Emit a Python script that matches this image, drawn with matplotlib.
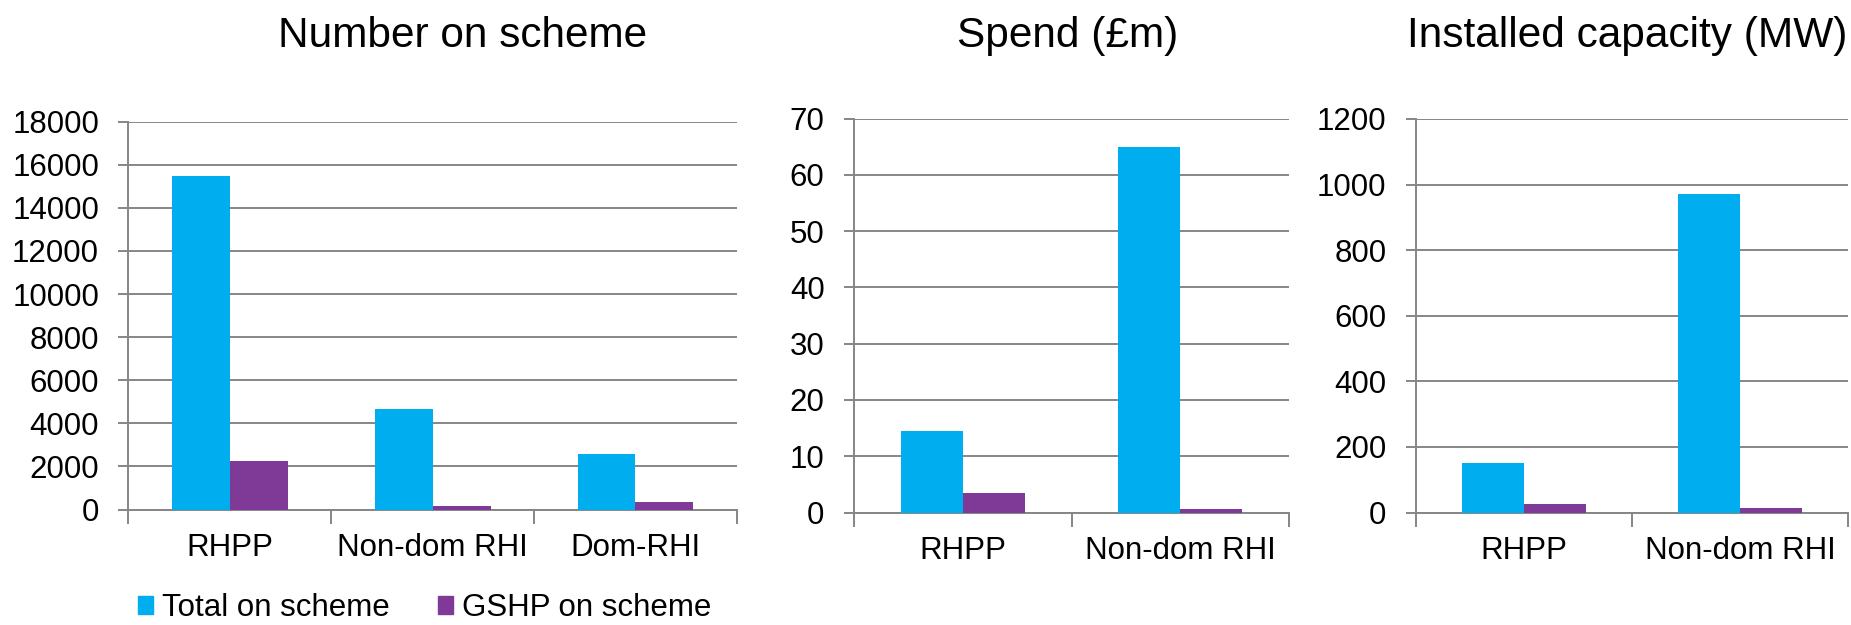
import numpy as np
import matplotlib
matplotlib.use("Agg")
import matplotlib.pyplot as plt
from matplotlib.patches import Patch

plt.rcParams['font.family'] = ['Liberation Sans', 'DejaVu Sans']

# data for the three panels
number_cats = ['RHPP', 'Non-dom RHI', 'Dom-RHI']
number_total = [15500, 4650, 2580]
number_gshp = [2250, 160, 340]

spend_cats = ['RHPP', 'Non-dom RHI']
spend_total = [14.5, 65.0]
spend_gshp = [3.4, 0.6]

capacity_cats = ['RHPP', 'Non-dom RHI']
capacity_total = [152, 970]
capacity_gshp = [27, 15]

titles = ['Number on scheme', 'Spend (£m)', 'Installed capacity (MW)']
series_names = ['Total on scheme', 'GSHP on scheme']

blue = '#00AEEF'
purple = '#7F3A98'
grey = '#868686'
fs = 22.5

fig = plt.figure(figsize=(18.51, 6.25), dpi=100)

panels = [
    ([0.0694, 0.1848, 0.3287, 0.6205], number_cats, number_total, number_gshp, 18000, 2000),
    ([0.4614, 0.1800, 0.2350, 0.6304], spend_cats, spend_total, spend_gshp, 70, 10),
    ([0.7650, 0.1800, 0.2334, 0.6296], capacity_cats, capacity_total, capacity_gshp, 1200, 200),
]

for rect, cats, total, gshp, ymax, step in panels:
    ax = fig.add_axes(rect)
    n = len(cats)
    x = np.arange(n)
    w = 1 / 3.5
    ax.bar(x - w / 2, total, width=w, color=blue, zorder=3)
    ax.bar(x + w / 2, gshp, width=w, color=purple, zorder=3)

    ax.set_xlim(-0.5, n - 0.5)
    ax.set_ylim(0, ymax)
    ax.set_yticks(np.arange(0, ymax + step, step))
    ax.yaxis.grid(True, color=grey, linewidth=1.4, zorder=0)
    ax.set_axisbelow(True)

    # category boundaries get tick marks, labels sit at the centres
    ax.set_xticks(np.arange(n + 1) - 0.5)
    ax.set_xticklabels([])
    ax.set_xticks(x, minor=True)
    ax.set_xticklabels(cats, minor=True)
    ax.tick_params(axis='x', which='major', length=10, width=1.4, color=grey)
    ax.tick_params(axis='x', which='minor', length=0, pad=17, labelsize=fs)
    ax.tick_params(axis='y', length=7.2, width=1.4, color=grey, pad=14, labelsize=fs)

    for side in ['top', 'right']:
        ax.spines[side].set_visible(False)
    for side in ['left', 'bottom']:
        ax.spines[side].set_color(grey)
        ax.spines[side].set_linewidth(1.4)

for tx, t in zip([0.250, 0.577, 0.879], titles):
    fig.text(tx, 0.9248, t, ha='center', va='baseline', fontsize=30.5)

handles = [Patch(color=blue), Patch(color=purple)]
fig.legend(handles, series_names, loc='center left', bbox_to_anchor=(0.0746, 0.027),
           frameon=False, fontsize=fs, ncol=2, handlelength=0.48, handleheight=0.5,
           handletextpad=0.29, columnspacing=1.55, borderpad=0, borderaxespad=0)

fig.savefig('out.png', dpi=100)
